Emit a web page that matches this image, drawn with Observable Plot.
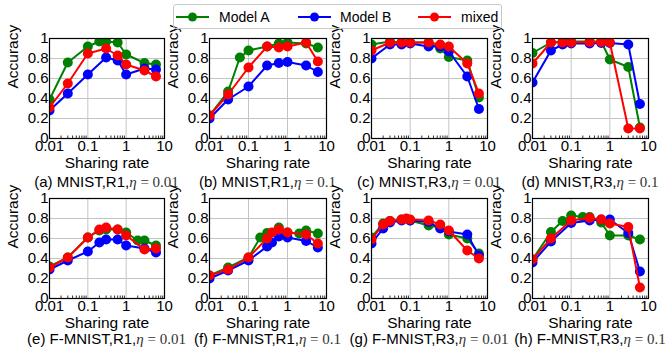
<!DOCTYPE html>
<html>
<head>
<meta charset="utf-8">
<script src="https://cdn.jsdelivr.net/npm/d3@7"></script>
<script src="https://cdn.jsdelivr.net/npm/@observablehq/plot@0.6"></script>
<style>
  html, body { margin: 0; padding: 0; background: white; }
  #root { position: relative; width: 665px; height: 352px; overflow: hidden; font-family: "Liberation Sans", Arial, sans-serif; color: black; }
  .panel { position: absolute; }
  .cap { position: absolute; width: 220px; text-align: center; font-size: 15px; line-height: 16px; white-space: nowrap; }
  .cap .m { font-family: "Liberation Serif", "Times New Roman", serif; color: #333; }
  .legend { position: absolute; left: 173px; top: 4px; width: 329px; height: 25px; border: 1px solid #c8c8c8; border-radius: 3px; box-sizing: border-box; }
  .lg { position: absolute; font-size: 14px; line-height: 16px; }
</style>
</head>
<body>
<div id="root"></div>
<script>
// ---- data ----
const seriesNames = ["Model A", "Model B", "mixed"];
const seriesColors = ["#008000", "#0000ff", "#ff0000"];
const rateTicks = [0.01, 0.1, 1, 10];
const rateTickLabels = ["0.01", "0.1", "1", "10"];
const accTicks = [0, 0.2, 0.4, 0.6, 0.8, 1];
const accTickLabels = ["0", "0.2", "0.4", "0.6", "0.8", "1"];
const xLabel = "Sharing rate";
const yLabel = "Accuracy";
const captionPrefix = ["(a) MNIST,R1,", "(b) MNIST,R1,", "(c) MNIST,R3,", "(d) MNIST,R3,",
  "(e) F-MNIST,R1,", "(f) F-MNIST,R1,", "(g) F-MNIST,R3,", "(h) F-MNIST,R3,"];
const captionEta = ["0.01", "0.1", "0.01", "0.1", "0.01", "0.1", "0.01", "0.1"];

// [sharing rate, accuracy]
const a_modelA = [[0.01,0.39],[0.03,0.76],[0.1,0.92],[0.2,0.97],[0.3,0.97],[0.6,0.96],[1,0.84],[3,0.755],[6,0.74]];
const a_modelB = [[0.01,0.28],[0.03,0.45],[0.1,0.64],[0.3,0.81],[0.6,0.78],[1,0.64],[3,0.70],[6,0.69]];
const a_mixed  = [[0.01,0.31],[0.03,0.55],[0.1,0.85],[0.3,0.90],[0.6,0.83],[1,0.74],[3,0.68],[6,0.62]];

const b_modelA = [[0.01,0.23],[0.03,0.47],[0.06,0.81],[0.1,0.88],[0.3,0.92],[0.6,0.95],[1,0.96],[3,0.95],[6,0.91]];
const b_modelB = [[0.01,0.20],[0.03,0.39],[0.1,0.52],[0.3,0.73],[0.6,0.755],[1,0.765],[3,0.73],[6,0.665]];
const b_mixed  = [[0.01,0.23],[0.03,0.44],[0.1,0.71],[0.3,0.92],[0.6,0.91],[1,0.92],[3,0.96],[6,0.77]];

const c_modelA = [[0.01,0.94],[0.03,0.97],[0.06,0.96],[0.1,0.96],[0.3,0.96],[0.6,0.90],[1,0.815],[3,0.78],[6,0.41]];
const c_modelB = [[0.01,0.80],[0.03,0.94],[0.06,0.94],[0.1,0.95],[0.3,0.92],[0.6,0.92],[1,0.87],[3,0.62],[6,0.295]];
const c_mixed  = [[0.01,0.88],[0.03,0.96],[0.06,0.96],[0.1,0.96],[0.3,0.96],[0.6,0.94],[1,0.92],[3,0.75],[6,0.45]];

const d_modelA = [[0.01,0.855],[0.03,0.96],[0.06,0.97],[0.1,0.97],[0.3,0.97],[0.6,0.97],[1,0.79],[3,0.715],[6,0.11]];
const d_modelB = [[0.01,0.56],[0.03,0.88],[0.06,0.94],[0.1,0.95],[0.3,0.95],[0.6,0.955],[1,0.955],[3,0.94],[6,0.345]];
const d_mixed  = [[0.01,0.75],[0.03,0.96],[0.06,0.96],[0.1,0.96],[0.3,0.965],[0.6,0.965],[1,0.96],[3,0.10],[6,0.10]];

const e_modelA = [[0.01,0.32],[0.03,0.41],[0.1,0.61],[0.2,0.68],[0.3,0.69],[0.6,0.69],[1,0.66],[2,0.58],[3,0.58],[6,0.53]];
const e_modelB = [[0.01,0.29],[0.03,0.38],[0.1,0.47],[0.2,0.56],[0.3,0.59],[0.6,0.59],[1,0.53],[3,0.50],[6,0.46]];
const e_mixed  = [[0.01,0.31],[0.03,0.41],[0.1,0.61],[0.2,0.69],[0.3,0.71],[0.6,0.69],[1,0.63],[3,0.49],[6,0.50]];

const f_modelA = [[0.01,0.23],[0.03,0.31],[0.1,0.41],[0.2,0.61],[0.3,0.655],[0.6,0.71],[1,0.66],[2,0.65],[3,0.68],[6,0.65]];
const f_modelB = [[0.01,0.20],[0.03,0.28],[0.1,0.38],[0.3,0.52],[0.4,0.56],[0.6,0.62],[1,0.61],[3,0.575],[6,0.51]];
const f_mixed  = [[0.01,0.23],[0.03,0.29],[0.1,0.41],[0.3,0.60],[0.4,0.66],[0.6,0.69],[1,0.66],[3,0.64],[6,0.55]];

const g_modelA = [[0.01,0.61],[0.02,0.75],[0.03,0.775],[0.06,0.79],[0.1,0.78],[0.3,0.73],[0.6,0.71],[1,0.64],[3,0.60],[6,0.45]];
const g_modelB = [[0.01,0.55],[0.02,0.70],[0.03,0.76],[0.06,0.78],[0.1,0.78],[0.3,0.765],[0.6,0.70],[1,0.67],[3,0.64],[6,0.43]];
const g_mixed  = [[0.01,0.59],[0.02,0.74],[0.03,0.775],[0.06,0.79],[0.08,0.80],[0.1,0.79],[0.3,0.78],[0.6,0.74],[1,0.68],[3,0.48],[6,0.40]];

const h_modelA = [[0.01,0.39],[0.03,0.665],[0.06,0.775],[0.1,0.83],[0.2,0.815],[0.3,0.815],[0.6,0.76],[1,0.63],[3,0.63],[6,0.59]];
const h_modelB = [[0.01,0.36],[0.03,0.57],[0.1,0.755],[0.3,0.78],[0.6,0.79],[1,0.79],[3,0.655],[6,0.27]];
const h_mixed  = [[0.01,0.39],[0.03,0.60],[0.1,0.78],[0.3,0.805],[0.6,0.79],[1,0.75],[3,0.715],[6,0.11]];

const panelSeries = [
  [a_modelA, a_modelB, a_mixed], [b_modelA, b_modelB, b_mixed],
  [c_modelA, c_modelB, c_mixed], [d_modelA, d_modelB, d_mixed],
  [e_modelA, e_modelB, e_mixed], [f_modelA, f_modelB, f_mixed],
  [g_modelA, g_modelB, g_mixed], [h_modelA, h_modelB, h_mixed]
];

// ---- layout ----
const plotLefts = [49, 209, 371, 532];
const plotWidths = [115, 117, 116, 116];
const rowTops = [38, 198];
const plotH = 100;
const mL = 55, mR = 15, mT = 10, mB = 40;

const rateLabel = new Map(rateTicks.map((d, i) => [d, rateTickLabels[i]]));
const accLabel = new Map(accTicks.map((d, i) => [d, accTickLabels[i]]));
const minorTicks = [];
for (const base of [0.01, 0.1, 1]) for (let k = 2; k <= 9; k++) minorTicks.push(+(base * k).toFixed(4));

const root = document.getElementById("root");

panelSeries.forEach((series, i) => {
  const col = i % 4, row = Math.floor(i / 4);
  const left = plotLefts[col], w = plotWidths[col], top = rowTops[row];

  const seriesMarks = [];
  series.forEach((pairs, s) => {
    const rows = pairs.map(([x, y]) => ({x, y}));
    seriesMarks.push(Plot.line(rows, {x: "x", y: "y", stroke: seriesColors[s], strokeWidth: 2, clip: true}));
    seriesMarks.push(Plot.dot(rows, {x: "x", y: "y", fill: seriesColors[s], r: 5, clip: true}));
  });

  const chart = Plot.plot({
    width: w + mL + mR,
    height: plotH + mT + mB,
    marginLeft: mL, marginRight: mR, marginTop: mT, marginBottom: mB,
    x: {type: "log", domain: [0.01, 10]},
    y: {domain: [0, 1]},
    style: {fontFamily: "'Liberation Sans', Arial, sans-serif", background: "transparent", overflow: "visible", color: "black"},
    marks: [
      Plot.gridX(rateTicks, {stroke: "#c4c4c4", strokeOpacity: 1, strokeWidth: 1}),
      Plot.gridY(accTicks, {stroke: "#c4c4c4", strokeOpacity: 1, strokeWidth: 1}),
      Plot.ruleX(minorTicks, {y1: 0, y2: 0.025, stroke: "black", strokeWidth: 0.8}),
      ...seriesMarks,
      Plot.frame({stroke: "black", strokeWidth: 1.2}),
      Plot.axisX(rateTicks, {tickSize: 0, tickPadding: 2, fontSize: 15, tickFormat: d => rateLabel.get(d), label: null}),
      Plot.axisY(accTicks, {tickSize: 0, tickPadding: 1, fontSize: 15, tickFormat: d => accLabel.get(d), label: null}),
      Plot.text([xLabel], {frameAnchor: "bottom", dy: 25, fontSize: 15.5, lineAnchor: "middle", text: d => d}),
      Plot.text([yLabel], {frameAnchor: "left", dx: -36, rotate: -90, fontSize: 15.5, lineAnchor: "middle", text: d => d})
    ]
  });
  const div = document.createElement("div");
  div.className = "panel";
  div.style.left = (left - mL) + "px";
  div.style.top = (top - mT) + "px";
  div.appendChild(chart);
  root.appendChild(div);

  const cap = document.createElement("div");
  cap.className = "cap";
  cap.style.left = (left + w / 2 - 110) + "px";
  cap.style.top = (row === 0 ? 174 : 331) + "px";
  cap.innerHTML = captionPrefix[i] + '<span class="m"><i>η</i> = ' + captionEta[i] + '</span>';
  root.appendChild(cap);
});

// ---- legend ----
const legend = document.createElement("div");
legend.className = "legend";
root.appendChild(legend);
const legendLineX = [176, 298, 418];
const legendTextX = [219, 340, 461];
seriesNames.forEach((name, s) => {
  const sw = document.createElementNS("http://www.w3.org/2000/svg", "svg");
  sw.setAttribute("width", 34); sw.setAttribute("height", 12);
  sw.style.position = "absolute";
  sw.style.left = legendLineX[s] + "px";
  sw.style.top = "11px";
  sw.innerHTML = `<line x1="0" x2="33" y1="6" y2="6" stroke="${seriesColors[s]}" stroke-width="2"/><circle cx="16.5" cy="6" r="4.5" fill="${seriesColors[s]}"/>`;
  root.appendChild(sw);
  const t = document.createElement("div");
  t.className = "lg";
  t.style.left = legendTextX[s] + "px";
  t.style.top = "9px";
  t.textContent = name;
  root.appendChild(t);
});
</script>
</body>
</html>
